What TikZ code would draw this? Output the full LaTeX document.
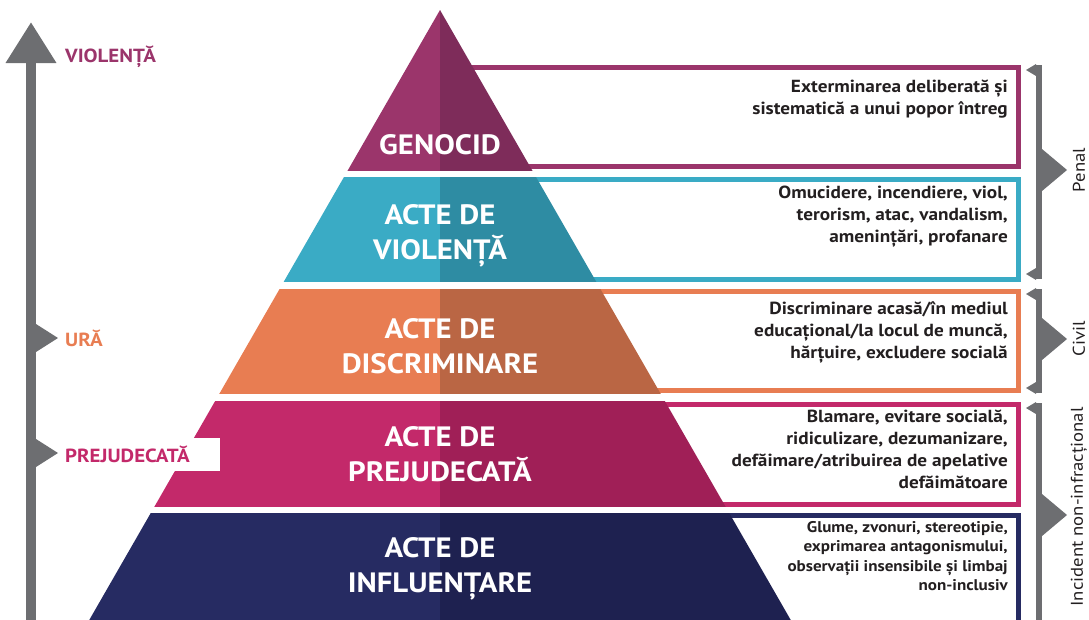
\documentclass[tikz,border=0pt]{standalone}
\usepackage{fontspec}
\setmainfont{PT Sans}[FakeStretch=1.1]
\usetikzlibrary{arrows.meta}
\definecolor{genL}{HTML}{9B356B}
\definecolor{genD}{HTML}{7E2C5A}
\definecolor{vioL}{HTML}{3AABC5}
\definecolor{vioD}{HTML}{2E8CA3}
\definecolor{disL}{HTML}{E87D52}
\definecolor{disD}{HTML}{BA6644}
\definecolor{preL}{HTML}{C3296A}
\definecolor{preD}{HTML}{A01F57}
\definecolor{infL}{HTML}{262B62}
\definecolor{infD}{HTML}{1E2150}
\definecolor{axisgray}{HTML}{6D6E71}
\definecolor{txtdark}{HTML}{231F20}
\tikzset{
  box/.style={line width=5pt},
  desc/.style={anchor=north east,align=right,inner sep=0pt,text=txtdark,
    font=\bfseries\fontsize{17.5}{22}\selectfont},
  tier/.style={align=center,inner sep=0pt,text=white,
    font=\bfseries\fontsize{28}{35}\selectfont},
  level/.style={anchor=west,inner sep=0pt,font=\bfseries\fontsize{19}{22}\selectfont},
  law/.style={rotate=90,inner sep=0pt,text=txtdark,font=\fontsize{17}{20}\selectfont},
  tick/.style={fill=axisgray}
}
\begin{document}
\begin{tikzpicture}[x=1pt,y=-1pt]
  \useasboundingbox (0,0) rectangle (1089,619);
  % boxes behind the pyramid
  \draw[box,genL] (450,67.5) rectangle (1018.5,166.5);
  \draw[box,vioL] (450,179.5) rectangle (1018.5,279.5);
  \draw[box,disL] (450,291.5) rectangle (1018.5,390.5);
  \draw[box,preL] (450,404.5) rectangle (1018.5,504.5);
  \draw[box,infL] (450,515.5) rectangle (1018.5,640);
  % pyramid
  \foreach \yt/\yb/\cl/\cd in {10/170/genL/genD,177/281/vioL/vioD,
      289/393/disL/disD,401/506/preL/preD,513/630/infL/infD}{
    \begin{scope}
      \clip (0,\yt) rectangle (1089,\yb);
      \fill[\cl] (440,10) -- (440,630) -- (83.5,630) -- cycle;
      \fill[\cd] (440,10) -- (440,630) -- (796.5,630) -- cycle;
    \end{scope}
  }
  \node[tier] (tgen) at (440,145) {GENOCID};
  \node[tier] (tvio) at (440,236) {ACTE DE\\VIOLENȚĂ};
  \node[tier] (tdis) at (440,346) {ACTE DE\\DISCRIMINARE};
  \node[tier] (tpre) at (440,454) {ACTE DE\\PREJUDECATĂ};
  \node[tier] (tinf) at (440,569) {ACTE DE\\INFLUENȚARE};
  % descriptions
  \node[desc] (dgen) at (1008,80) {Exterminarea deliberată și\\sistematică a unui popor întreg};
  \node[desc] (dvio) at (1008,186) {Omucidere, incendiere, viol,\\terorism, atac, vandalism,\\amenințări, profanare};
  \node[desc] (ddis) at (1008,301) {Discriminare acasă/în mediul\\educațional/la locul de muncă,\\hărțuire, excludere socială};
  \node[desc] (dpre) at (1008,410) {Blamare, evitare socială,\\ridiculizare, dezumanizare,\\defăimare/atribuirea de apelative\\defăimătoare};
  \node[desc,font=\bfseries\fontsize{15.5}{19.5}\selectfont] (dinf) at (1008,521)
    {Glume, zvonuri, stereotipie,\\exprimarea antagonismului,\\observații insensibile și limbaj\\non-inclusiv};
  % left axis
  \coordinate (axbot) at (31,625);
  \coordinate (axtop) at (31,22);
  \draw[axisgray,line width=10pt,-{Triangle[width=48pt,length=41pt]}] (axbot) -- (axtop);
  \fill[tick] (36,324) -- (58,338) -- (36,352) -- cycle;
  \fill[tick] (36,439) -- (58,453) -- (36,467) -- cycle;
  \node[level,text=genL] (lvio) at (65,57) {VIOLENȚĂ};
  \node[level,text=disL] (lura) at (65,338) {URĂ};
  \node[level,text=preL,fill=white,inner xsep=5pt,inner ysep=0pt,
    minimum height=33pt,text width=150pt] (lpre) at (60,454) {PREJUDECATĂ};
  % right brackets
  \fill[tick] (1036,65) rectangle (1042,279);
  \fill[tick] (1036,289) rectangle (1042,393);
  \fill[tick] (1036,403) rectangle (1042,625);
  \foreach \yy in {70,274,294,388,408}
    \fill[tick] (1036,\yy-6) -- (1026,\yy) -- (1036,\yy+6) -- cycle;
  \foreach \yy in {170,339,515}
    \fill[tick] (1042,\yy-21) -- (1067,\yy) -- (1042,\yy+21) -- cycle;
  \node[law] (penal) at (1079,170) {Penal};
  \node[law] (civil) at (1079,339) {Civil};
  \node[law] (incid) at (1079,507) {Incident non-infracțional};
\end{tikzpicture}
\end{document}
